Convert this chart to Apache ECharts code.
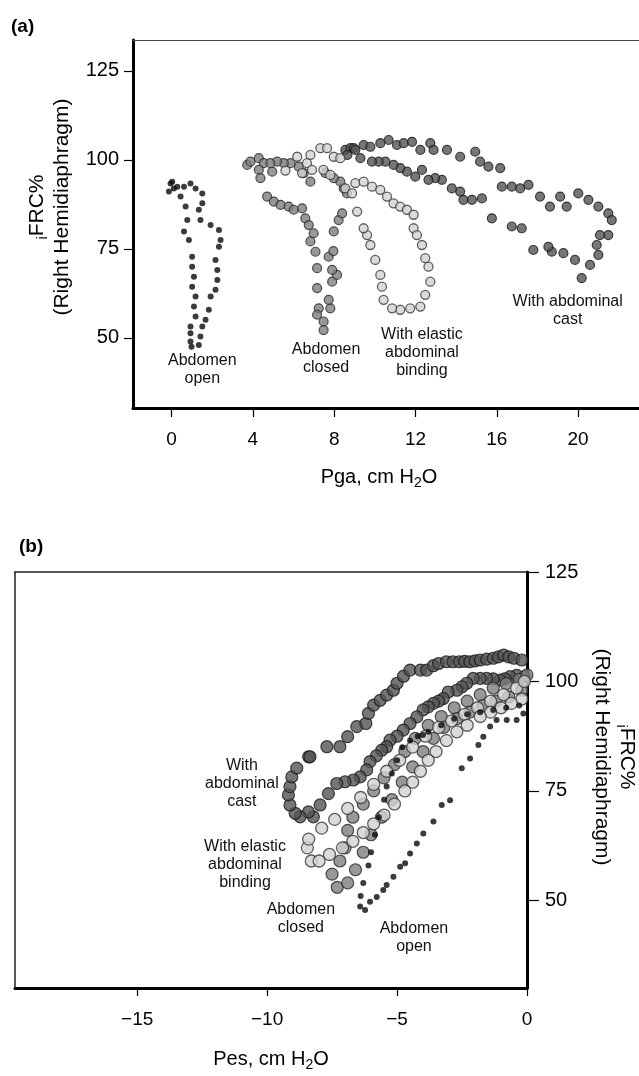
<!DOCTYPE html>
<html>
<head>
<meta charset="utf-8">
<script src="https://cdn.jsdelivr.net/npm/echarts@6/dist/echarts.min.js"></script>
<style>
html,body{margin:0;padding:0;background:#fff;}
#chart{width:639px;height:1076px;}
</style>
</head>
<body>
<div id="chart"></div>
<script>
// ---------- Panel (a): iFRC% vs Pga ----------
const xTicksA = [0, 4, 8, 12, 16, 20];
const yTicks = [50, 75, 100, 125];
const openA = [[-0.05,93.4],[0.11,92.0],[0.03,93.9],[-0.13,91.1],[0.28,92.5],[0.44,89.7],[0.69,86.9],[0.77,83.1],[0.61,79.9],[0.85,77.5],[1.01,72.8],[1.01,70.0],[1.10,67.2],[1.01,64.4],[1.18,61.6],[1.10,58.8],[1.18,56.0],[0.93,53.2],[0.93,51.3],[0.93,49.0],[0.98,47.5],[1.34,48.0],[1.42,50.4],[1.51,53.2],[1.67,55.1],[1.83,57.9],[1.92,61.6],[2.16,63.5],[2.25,66.3],[2.25,69.1],[2.16,71.9],[2.33,75.6],[2.41,77.5],[2.33,80.3],[1.92,81.7],[1.42,83.1],[1.34,86.0],[1.51,87.8],[1.51,90.6],[1.18,92.0],[0.93,93.4],[0.61,92.5]];
const closedA = [[3.72,98.6],[3.88,99.5],[4.29,100.5],[4.54,99.1],[4.29,97.2],[4.37,94.9],[4.70,89.7],[5.03,88.3],[5.36,87.4],[5.76,86.9],[6.01,86.0],[6.42,86.4],[6.58,83.6],[6.75,81.7],[6.99,79.4],[6.83,77.1],[7.08,74.2],[7.16,69.6],[7.16,64.0],[7.24,58.3],[7.16,56.5],[7.48,54.6],[7.48,52.2],[7.81,58.3],[7.73,60.7],[7.90,65.8],[8.14,67.7],[7.90,69.1],[7.73,72.8],[7.96,74.4],[7.98,79.9],[8.22,83.1],[8.39,85.0],[8.63,90.6],[8.47,92.0],[8.30,93.9],[7.98,94.9],[7.57,96.3],[6.83,93.9],[6.50,96.3],[6.26,98.1],[5.85,99.1],[5.52,99.1],[5.19,99.5],[4.95,96.7],[4.86,99.1]];
const elasticA = [[5.60,97.0],[6.18,100.9],[6.83,101.4],[7.32,103.3],[7.65,103.3],[7.98,100.9],[8.30,100.5],[6.66,99.1],[6.42,96.3],[6.91,97.2],[7.47,97.2],[7.81,95.8],[8.55,92.0],[8.88,90.6],[9.04,93.5],[9.45,93.9],[9.86,92.5],[10.27,91.6],[10.60,89.7],[10.92,87.8],[11.25,86.9],[11.58,86.0],[11.91,84.6],[11.91,80.8],[12.07,78.9],[12.32,76.1],[12.48,72.4],[12.64,70.0],[12.73,65.8],[12.48,62.1],[12.24,58.8],[11.74,58.3],[11.25,57.9],[10.85,58.3],[10.43,60.7],[10.35,64.4],[10.27,67.7],[10.02,71.9],[9.78,76.1],[9.62,78.9],[9.45,80.8],[9.13,85.5]];
const castA = [[8.55,102.8],[8.80,103.3],[8.96,103.3],[9.45,104.2],[9.78,103.7],[10.27,104.7],[10.68,105.6],[11.09,104.2],[11.42,104.7],[11.83,105.1],[12.24,102.8],[12.73,104.7],[12.89,102.8],[13.55,102.8],[14.20,100.9],[14.94,102.3],[15.18,99.5],[15.59,98.1],[16.17,97.7],[16.25,92.5],[16.74,92.5],[17.15,92.0],[17.56,93.0],[18.13,89.7],[18.62,86.9],[19.12,89.7],[19.44,86.9],[20.01,90.6],[20.51,88.8],[21.00,86.9],[21.49,85.0],[21.66,83.1],[21.49,78.9],[21.08,78.9],[20.92,76.1],[21.00,73.3],[20.59,70.5],[20.18,66.8],[19.85,71.9],[19.28,73.8],[18.71,74.2],[18.54,75.6],[17.80,74.7],[17.23,80.8],[16.74,81.3],[15.76,83.6],[15.27,89.2],[14.78,88.8],[14.36,88.8],[14.20,91.1],[13.79,92.0],[13.30,94.4],[12.97,94.9],[12.64,94.4],[12.32,97.2],[11.99,95.3],[11.58,96.7],[11.25,97.7],[10.92,98.6],[10.52,99.5],[10.19,99.5],[9.86,99.5],[9.29,100.5],[9.04,102.8],[8.65,101.4]];
const labelsA = [
  { text: 'Abdomen\nopen', at: [1.51, 41.2] },
  { text: 'Abdomen\nclosed', at: [7.60, 44.1] },
  { text: 'With elastic\nabdominal\nbinding', at: [12.32, 45.8] },
  { text: 'With abdominal\ncast', at: [19.49, 57.6] }
];

// ---------- Panel (b): iFRC% vs Pes ----------
const xTicksB = [-15, -10, -5, 0];
const openB = [[-6.42,48.6],[-6.23,47.8],[-6.04,49.7],[-5.78,50.8],[-5.53,52.4],[-5.40,53.5],[-5.14,55.4],[-4.88,57.7],[-4.69,58.5],[-4.50,60.7],[-4.24,63.0],[-3.99,65.3],[-3.60,68.0],[-3.28,71.8],[-2.96,72.9],[-2.51,80.2],[-2.19,82.4],[-1.87,85.5],[-1.68,87.4],[-1.42,89.7],[-1.17,91.2],[-0.78,91.2],[-0.40,91.2],[-0.14,92.7],[-0.3,94.5],[-0.8,94.0],[-1.3,93.5],[-1.8,93.0],[-2.3,92.5],[-2.8,91.5],[-3.3,90.0],[-3.8,88.5],[-4.0,87.8],[-4.2,87.5],[-4.5,86.5],[-4.8,85.0],[-5.0,82.0],[-5.2,79.0],[-5.4,76.0],[-5.5,73.0],[-5.7,69.0],[-5.85,65.0],[-6.0,61.0],[-6.1,58.0],[-6.3,54.0],[-6.4,51.0]];
const closedB = [[-7.3,53],[-7.5,56],[-7.2,59],[-7.0,62],[-6.9,66],[-6.7,69],[-6.3,72],[-5.9,75],[-5.5,78],[-5.1,81],[-4.7,84],[-4.3,87],[-3.8,90],[-3.3,92],[-2.8,94],[-2.3,95.5],[-1.8,97],[-1.3,98.5],[-0.8,99.5],[-0.3,100.5],[0,101.5],[-0.2,98],[-0.7,96.5],[-1.2,95.5],[-1.7,94.5],[-2.2,93],[-2.7,91.5],[-3.2,89.5],[-3.6,87],[-4.0,84],[-4.4,80.5],[-4.8,77],[-5.2,73],[-5.6,69],[-6.0,65],[-6.3,61],[-6.6,57],[-6.9,54]];
const elasticB = [[-8.3,59],[-8.45,62],[-8.4,64],[-7.9,66.5],[-7.4,68.5],[-6.9,71],[-6.4,73.5],[-5.9,76.5],[-5.4,79.5],[-4.9,82],[-4.4,85],[-3.9,87.5],[-3.4,89.5],[-2.9,91],[-2.4,92.5],[-1.9,94],[-1.4,95.5],[-0.9,97],[-0.4,98.5],[-0.1,100],[-0.2,96],[-0.6,95],[-1.0,94],[-1.4,93],[-1.8,92],[-2.3,90],[-2.7,88.5],[-3.1,86.5],[-3.5,84],[-3.8,82],[-4.1,79.5],[-4.4,77],[-4.7,75],[-5.1,72],[-5.5,69.5],[-5.9,67.5],[-6.3,65.5],[-6.7,63.5],[-7.1,62],[-7.6,60.5],[-8.0,59]];
const castB = [[-8.4,82.8],[-7.7,85.1],[-7.2,85.1],[-6.9,87.4],[-6.55,89.7],[-6.2,90.4],[-6.1,92.7],[-5.9,94.6],[-5.65,95.7],[-5.4,96.9],[-5.14,98.0],[-5.0,99.6],[-4.75,101.2],[-4.5,102.6],[-4.1,102.6],[-3.86,102.6],[-3.6,103.6],[-3.4,104.1],[-3.1,104.5],[-2.85,104.5],[-2.6,104.5],[-2.4,104.6],[-2.2,104.5],[-2.0,104.7],[-1.8,104.9],[-1.55,105.1],[-1.3,105.3],[-1.1,105.6],[-0.9,106.0],[-0.7,105.6],[-0.5,105.3],[-0.2,104.9],[-0.1,101.1],[-0.4,101.4],[-0.65,101.1],[-0.85,100.6],[-1.04,100.3],[-1.3,100.6],[-1.55,100.7],[-1.8,100.7],[-2.07,100.7],[-2.32,99.6],[-2.5,98.8],[-2.7,98.0],[-3.03,97.6],[-3.22,96.1],[-3.4,95.5],[-3.6,95.0],[-3.8,94.2],[-4.0,93.5],[-4.24,91.9],[-4.5,90.4],[-4.76,88.9],[-5.0,87.5],[-5.27,86.6],[-5.4,85.1],[-5.59,84.3],[-5.8,83.0],[-6.04,81.7],[-6.17,79.8],[-6.42,78.2],[-6.68,77.5],[-7.0,77.1],[-7.32,76.7],[-7.64,74.4],[-7.96,71.8],[-8.22,69.1],[-8.41,70.2],[-8.73,69.1],[-8.92,69.9],[-9.12,71.8],[-9.18,74.1],[-9.12,76.0],[-9.05,78.2],[-8.86,80.2],[-8.35,82.8]];
const labelsB = [
  { text: 'With\nabdominal\ncast', at: [-10.97, 76.7] },
  { text: 'With elastic\nabdominal\nbinding', at: [-10.85, 58.1] },
  { text: 'Abdomen\nclosed', at: [-8.70, 45.8] },
  { text: 'Abdomen\nopen', at: [-4.35, 41.5] }
];

const FONT = "'Liberation Sans', Arial, Helvetica, sans-serif";
const INK = '#000';

const styles = {
  cast:    { color: '#545454', borderColor: '#1a1a1a', borderWidth: 1.2 },
  closed:  { color: '#7e7e7e', borderColor: '#2a2a2a', borderWidth: 1.2 },
  elastic: { color: '#d2d2d2', borderColor: '#3a3a3a', borderWidth: 1.3 },
  open:    { color: '#0a0a0a', borderWidth: 0 }
};

function scatter(name, data, xi, yi, size, style) {
  return { name, type: 'scatter', xAxisIndex: xi, yAxisIndex: yi, data,
    symbol: 'circle', symbolSize: size, itemStyle: style, silent: true, animation: false };
}
const minus = v => (v < 0 ? '\u2212' + Math.abs(v) : String(v));
const subRich = {
  sub: { fontFamily: FONT, fontSize: 14, color: INK, padding: [12, 0, 0, 0] }
};

const chart = echarts.init(document.getElementById('chart'), null, { renderer: 'canvas' });
chart.setOption({
  backgroundColor: '#fff',
  animation: false,
  textStyle: { fontFamily: FONT },
  title: [
    { text: '(a)', left: 6, top: 12, textStyle: { fontFamily: FONT, fontSize: 19, fontWeight: 'bold', color: INK } },
    { text: '(b)', left: 14, top: 532, textStyle: { fontFamily: FONT, fontSize: 19, fontWeight: 'bold', color: INK } }
  ],
  grid: [
    { left: 133, top: 40, right: 0, height: 368, containLabel: false, outerBoundsMode: 'none' },
    { left: 15, top: 572, width: 512, height: 416, containLabel: false, outerBoundsMode: 'none' }
  ],
  xAxis: [
    { gridIndex: 0, type: 'value', position: 'bottom', min: -1.9, max: 23,
      axisLine: { onZero: false, lineStyle: { color: INK, width: 3 } },
      axisTick: { customValues: xTicksA, length: 9, lineStyle: { color: INK, width: 1.2 } },
      axisLabel: { customValues: xTicksA, fontSize: 19, color: INK, margin: 22, fontFamily: FONT },
      splitLine: { show: false },
      name: 'Pga, cm H{sub|2}O', nameLocation: 'middle', nameGap: 56,
      nameTextStyle: { fontSize: 20, color: INK, fontFamily: FONT, padding: [0, 14, 0, 0], rich: subRich } },
    { gridIndex: 0, type: 'value', position: 'top', min: -1.9, max: 23,
      axisLine: { onZero: false, lineStyle: { color: '#444', width: 1 } },
      axisTick: { show: false }, axisLabel: { show: false }, splitLine: { show: false } },
    { gridIndex: 1, type: 'value', position: 'bottom', min: -19.7, max: 0,
      axisLine: { onZero: false, lineStyle: { color: INK, width: 3 } },
      axisTick: { customValues: xTicksB, length: 8, lineStyle: { color: INK, width: 1.2 } },
      axisLabel: { customValues: xTicksB, fontSize: 19, color: INK, margin: 22, fontFamily: FONT, formatter: minus },
      splitLine: { show: false },
      name: 'Pes, cm H{sub|2}O', nameLocation: 'middle', nameGap: 58,
      nameTextStyle: { fontSize: 20, color: INK, fontFamily: FONT, rich: subRich } },
    { gridIndex: 1, type: 'value', position: 'top', min: -19.7, max: 0,
      axisLine: { onZero: false, lineStyle: { color: '#222', width: 1.5 } },
      axisTick: { show: false }, axisLabel: { show: false }, splitLine: { show: false } }
  ],
  yAxis: [
    { gridIndex: 0, type: 'value', position: 'left', min: 30.3, max: 133.7,
      axisLine: { onZero: false, lineStyle: { color: INK, width: 3 } },
      axisTick: { customValues: yTicks, length: 9, lineStyle: { color: INK, width: 1.2 } },
      axisLabel: { customValues: yTicks, fontSize: 20, color: INK, margin: 14, fontFamily: FONT },
      splitLine: { show: false },
      name: '{sub|i}FRC%\n(Right Hemidiaphragm)', nameLocation: 'middle', nameGap: 49,
      nameTextStyle: { fontSize: 21, lineHeight: 25, color: INK, fontFamily: FONT, padding: [0, 0, 0, 34], rich: subRich } },
    { gridIndex: 1, type: 'value', position: 'right', min: 30, max: 125,
      axisLine: { onZero: false, lineStyle: { color: INK, width: 3 } },
      axisTick: { customValues: yTicks, length: 12, lineStyle: { color: INK, width: 1.2 } },
      axisLabel: { customValues: yTicks, fontSize: 20, color: INK, margin: 18, fontFamily: FONT },
      splitLine: { show: false },
      name: '{sub|i}FRC%\n(Right Hemidiaphragm)', nameLocation: 'middle', nameGap: 61, nameRotate: -90,
      nameTextStyle: { fontSize: 21, lineHeight: 25, color: INK, fontFamily: FONT, padding: [0, 46, 0, 0], rich: subRich } },
    { gridIndex: 1, type: 'value', position: 'left', min: 30, max: 125,
      axisLine: { onZero: false, lineStyle: { color: '#222', width: 1.5 } },
      axisTick: { show: false }, axisLabel: { show: false }, splitLine: { show: false } }
  ],
  series: [
    scatter('With abdominal cast', castA, 0, 0, 9, styles.cast),
    scatter('Abdomen closed', closedA, 0, 0, 9, styles.closed),
    scatter('With elastic abdominal binding', elasticA, 0, 0, 9, styles.elastic),
    scatter('Abdomen open', openA, 0, 0, 6, styles.open),
    scatter('With abdominal cast', castB, 2, 1, 12, styles.cast),
    scatter('Abdomen closed', closedB, 2, 1, 12, styles.closed),
    scatter('With elastic abdominal binding', elasticB, 2, 1, 12, styles.elastic),
    scatter('Abdomen open', openB, 2, 1, 6, styles.open)
  ]
});

// Curve annotations, placed through each panel's own axes
function annotations(list, seriesIndex) {
  return list.map(l => {
    const p = chart.convertToPixel({ seriesIndex }, l.at);
    return { type: 'text', x: p[0], y: p[1], silent: true, z: 10,
      style: { text: l.text, fill: '#111', font: '16px ' + FONT, lineHeight: 18,
        align: 'center', verticalAlign: 'middle' } };
  });
}
chart.setOption({ graphic: annotations(labelsA, 0).concat(annotations(labelsB, 4)) });
</script>
</body>
</html>
